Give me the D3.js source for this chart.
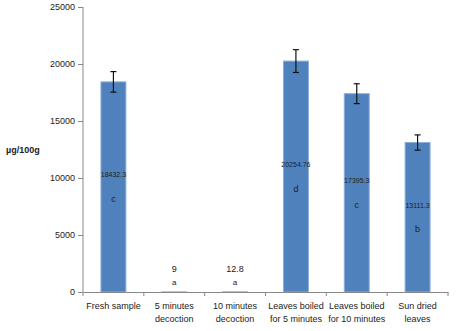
<!DOCTYPE html>
<html>
<head>
<meta charset="utf-8">
<script src="https://cdn.jsdelivr.net/npm/d3@7"></script>
<style>
  body { margin: 0; background: #fff; }
  svg text { font-family: "Liberation Sans", "DejaVu Sans", sans-serif; fill: #222; }
</style>
</head>
<body>
<div id="chart"></div>
<script>
var categories = [
    ["Fresh sample"],
    ["5 minutes", "decoction"],
    ["10 minutes", "decoction"],
    ["Leaves boiled", "for 5 minutes"],
    ["Leaves boiled", "for 10 minutes"],
    ["Sun dried", "leaves"]
];
var values = [18432.3, 9, 12.8, 20254.76, 17395.3, 13111.3];
var errors = [900, 0, 0, 1000, 870, 670];
var valueLabels = ["18432.3", "9", "12.8", "20254.76", "17395.3", "13111.3"];
var letters = ["c", "a", "a", "d", "c", "b"];
var yTicks = [0, 5000, 10000, 15000, 20000, 25000];

var margin = {top: 7, right: 10, bottom: 39, left: 83},
    outerWidth = 458,
    outerHeight = 331,
    width = outerWidth - margin.left - margin.right,
    height = outerHeight - margin.top - margin.bottom;

var svg = d3.select("#chart").append("svg")
    .attr("width", outerWidth)
    .attr("height", outerHeight);

var g = svg.append("g")
    .attr("transform", "translate(" + margin.left + "," + margin.top + ")");

var idx = d3.range(values.length);

var xScale = d3.scaleBand()
    .domain(idx)
    .range([0, width])
    .paddingInner(0.59)
    .paddingOuter(0.295);

var yScale = d3.scaleLinear()
    .domain([0, 25000])
    .range([height, 0]);

// bars
g.selectAll("rect.bar")
    .data(idx)
    .enter().append("rect")
    .attr("class", "bar")
    .attr("x", function(i) { return xScale(i); })
    .attr("y", function(i) { return yScale(values[i]); })
    .attr("width", xScale.bandwidth())
    .attr("height", function(i) { return height - yScale(values[i]); })
    .attr("fill", "#4F81BD")
    .attr("stroke", "#8CAEDA")
    .attr("stroke-width", 1);

// error bars
var eb = g.selectAll("g.err")
    .data(idx.filter(function(i) { return errors[i] > 0; }))
    .enter().append("g")
    .attr("class", "err")
    .attr("stroke", "#111")
    .attr("stroke-width", 1.2);

eb.append("line")
    .attr("x1", function(i) { return xScale(i) + xScale.bandwidth() / 2; })
    .attr("x2", function(i) { return xScale(i) + xScale.bandwidth() / 2; })
    .attr("y1", function(i) { return yScale(values[i] + errors[i]); })
    .attr("y2", function(i) { return yScale(values[i] - errors[i]); });

[1, -1].forEach(function(s) {
    eb.append("line")
        .attr("x1", function(i) { return xScale(i) + xScale.bandwidth() / 2 - 3; })
        .attr("x2", function(i) { return xScale(i) + xScale.bandwidth() / 2 + 3; })
        .attr("y1", function(i) { return yScale(values[i] + s * errors[i]); })
        .attr("y2", function(i) { return yScale(values[i] + s * errors[i]); });
});

// data labels
function labelY(i) { return Math.min(yScale(values[i] / 2) - 12, height - 23); }

g.selectAll("text.val")
    .data(idx)
    .enter().append("text")
    .attr("class", "val")
    .attr("x", function(i) { return xScale(i) + xScale.bandwidth() / 2; })
    .attr("y", labelY)
    .attr("dy", "0.35em")
    .attr("text-anchor", "middle")
    .attr("font-size", function(i) { return values[i] > 100 ? 7 : 9; })
    .text(function(i) { return valueLabels[i]; });

g.selectAll("text.letter")
    .data(idx)
    .enter().append("text")
    .attr("class", "letter")
    .attr("x", function(i) { return xScale(i) + xScale.bandwidth() / 2; })
    .attr("y", function(i) { return labelY(i) + (values[i] > 100 ? 24 : 13); })
    .attr("dy", "0.35em")
    .attr("text-anchor", "middle")
    .attr("font-size", function(i) { return values[i] > 100 ? 9 : 8; })
    .text(function(i) { return letters[i]; });

// y axis
var yAxis = g.append("g")
    .attr("class", "y axis")
    .call(d3.axisLeft(yScale).tickValues(yTicks).tickSize(5).tickPadding(3).tickFormat(d3.format("d")));

// x axis
var xAxis = g.append("g")
    .attr("class", "x axis")
    .attr("transform", "translate(0," + height + ")")
    .call(d3.axisBottom(xScale).tickSize(0).tickFormat(""));

xAxis.selectAll("line.sep")
    .data(d3.range(values.length + 1))
    .enter().append("line")
    .attr("class", "sep")
    .attr("x1", function(i) { return i * xScale.step(); })
    .attr("x2", function(i) { return i * xScale.step(); })
    .attr("y1", 0)
    .attr("y2", 4)
    .attr("stroke", "#888");

xAxis.selectAll(".tick").each(function(i) {
    var t = d3.select(this).select("text")
        .attr("y", 10)
        .attr("dy", 0)
        .attr("font-size", 9)
        .attr("fill", "#222");
    t.selectAll("tspan")
        .data(categories[i])
        .enter().append("tspan")
        .attr("x", 0)
        .attr("dy", function(d, k) { return k === 0 ? "0.8em" : "1.45em"; })
        .text(function(d) { return d; });
});

svg.selectAll(".axis path, .axis line").attr("stroke", "#888");
yAxis.selectAll("text").attr("font-size", 9).attr("fill", "#222");
yAxis.select(".domain").attr("d", "M0," + height + "V0");

// y label
svg.append("text")
    .attr("x", 6)
    .attr("y", 153)
    .attr("font-size", 9)
    .attr("font-weight", "bold")
    .text("µg/100g");
</script>
</body>
</html>
